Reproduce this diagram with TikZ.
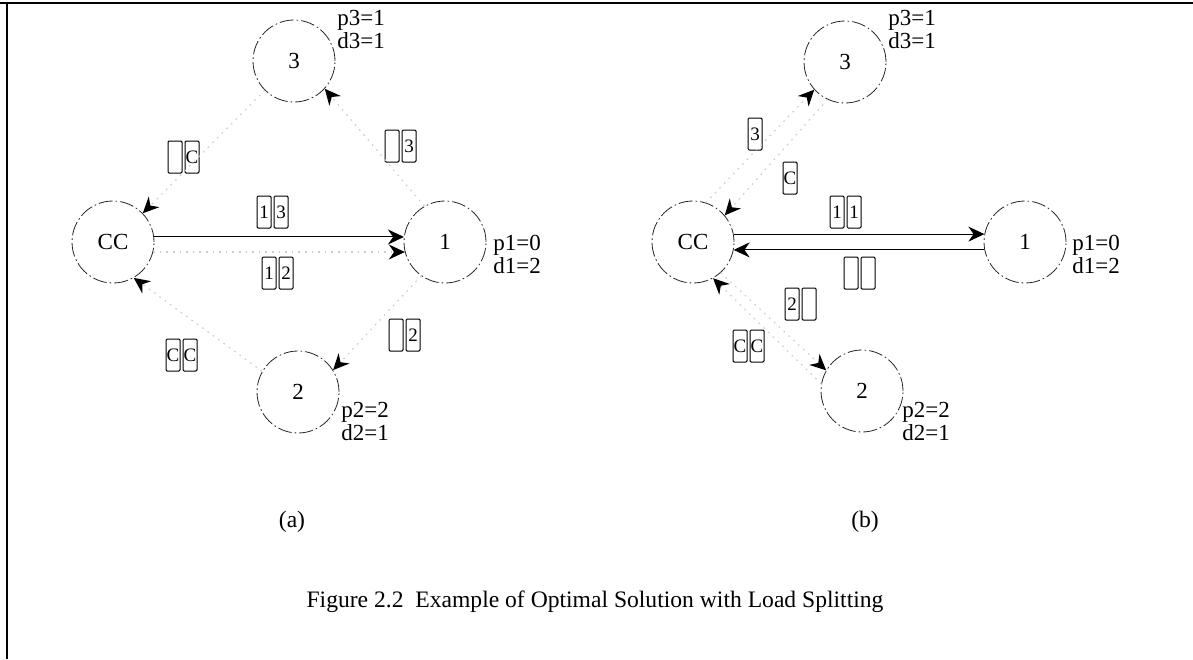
\documentclass[tikz,border=0pt]{standalone}
\usepackage{fontspec}
\setmainfont{Liberation Serif}
\usetikzlibrary{arrows.meta,positioning}

\begin{document}
\begin{tikzpicture}[x=0.5pt, y=-0.5pt,
  site/.style={circle, draw=black!85, dash pattern=on 7pt off 1.5pt on 0.8pt off 1.5pt, line width=0.4pt, minimum size=41pt, inner sep=0pt, font=\fontsize{11.5}{12}\selectfont},
  info/.style={align=left, anchor=west, inner sep=0pt, font=\fontsize{11.5}{11.5}\selectfont},
  pkt/.style={draw, line width=0.5pt, rounded corners=0.6pt, minimum width=7pt, minimum height=16pt, inner sep=0pt, font=\fontsize{9.5}{9.5}\selectfont},
  arr/.style={-{Stealth[length=8pt, width=7.5pt, inset=2.6pt]}, line width=0.5pt},
  flow/.style={dash pattern=on 0.8pt off 2.5pt, gray!40, line width=0.6pt, -{Stealth[length=8pt, width=7.5pt, inset=2.6pt, color=black]}},
  captxt/.style={font=\fontsize{11.8}{14}\selectfont}]
  \useasboundingbox (0,0) rectangle (1193,659);
  % frame
  \draw[line width=1pt] (0,3) -- (1193,3);
  \draw[line width=0.8pt] (7,3) -- (7,659);

  % (a)
  \node[site] (aCC) at (113,242) {CC};
  \node[site] (a1) at (445,242) {1};
  \node[site] (a2) at (298,392) {2};
  \node[site] (a3) at (294,61) {3};
  \node[info] (a1inf) at (493,254) {p1=0\\d1=2};
  \node[info] (a2inf) at (341,421) {p2=2\\d2=1};
  \node[info] (a3inf) at (337,29) {p3=1\\d3=1};
  \node[pkt] (apkC1) at (175,157) {};
  \node[pkt, right=1pt of apkC1] (apkC2) {C};
  \node[pkt] (apk31) at (392,146) {};
  \node[pkt, right=1pt of apk31] (apk32) {3};
  \node[pkt] (apkT1) at (264,212) {1};
  \node[pkt, right=1pt of apkT1] (apkT2) {3};
  \node[pkt] (apkB1) at (269,273) {1};
  \node[pkt, right=1pt of apkB1] (apkB2) {2};
  \node[pkt] (apkCC1) at (173,355) {C};
  \node[pkt, right=1pt of apkCC1] (apkCC2) {C};
  \node[pkt] (apk21) at (396,335) {};
  \node[pkt, right=1pt of apk21] (apk22) {2};
  \draw[arr] (aCC.7) -- (a1.173);
  \draw[flow] (aCC.-14) -- (a1.194);
  \draw[flow] (a1.120) -- (a3.-42);
  \draw[flow] (a3.225) -- (aCC.44);
  \draw[flow] (a1.235) -- (a2.32);
  \draw[flow] (a2.150) -- (aCC.-60);

  % (b)
  \node[site] (bCC) at (693,242) {CC};
  \node[site] (b1) at (1025,242) {1};
  \node[site] (b2) at (862,391) {2};
  \node[site] (b3) at (845,62) {3};
  \node[info] (b1inf) at (1072,254) {p1=0\\d1=2};
  \node[info] (b2inf) at (902,421) {p2=2\\d2=1};
  \node[info] (b3inf) at (888,29) {p3=1\\d3=1};
  \node[pkt] (bpk3) at (755,134) {3};
  \node[pkt] (bpkC) at (790,178) {C};
  \node[pkt] (bpkT1) at (837,212) {1};
  \node[pkt, right=1pt of bpkT1] (bpkT2) {1};
  \node[pkt] (bpkB1) at (851,273) {};
  \node[pkt, right=1pt of bpkB1] (bpkB2) {};
  \node[pkt] (bpk21) at (792,304) {2};
  \node[pkt, right=1pt of bpk21] (bpk22) {};
  \node[pkt] (bpkCC1) at (740,346) {C};
  \node[pkt, right=1pt of bpkCC1] (bpkCC2) {C};
  \draw[arr] (bCC.11) -- (b1.169);
  \draw[arr] (b1.191) -- (bCC.-11);
  \draw[flow] (bCC.72) -- (b3.222);
  \draw[flow] (b3.245) -- (bCC.40);
  \draw[flow] (bCC.-48) -- (b2.150);
  \draw[flow] (b2.170) -- (bCC.-61);

  % captions
  \node[captxt] (alab) at (292,522) {(a)};
  \node[captxt] (blab) at (865,522) {(b)};
  \node[captxt] (fig) at (595,602) {Figure 2.2\ \ Example of Optimal Solution with Load Splitting};
\end{tikzpicture}
\end{document}
